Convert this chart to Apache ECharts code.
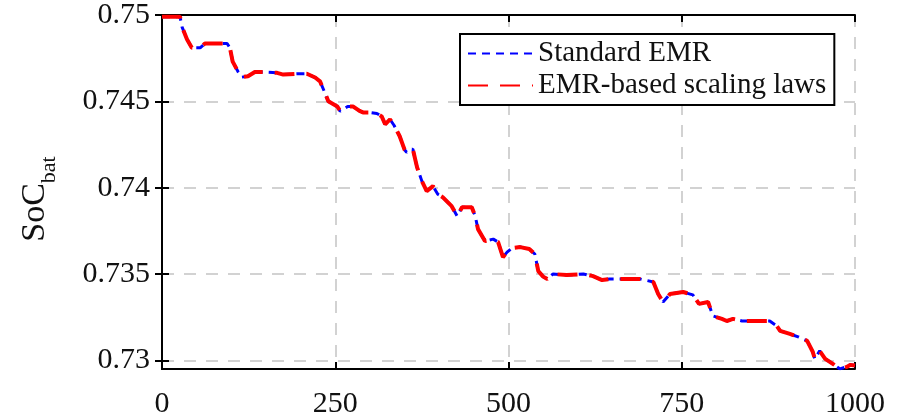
<!DOCTYPE html>
<html>
<head>
<meta charset="utf-8">
<script src="https://cdn.jsdelivr.net/npm/echarts@6/dist/echarts.min.js"></script>
<style>
  html, body { margin: 0; padding: 0; background: #fff; }
  #chart { width: 905px; height: 419px; }
</style>
</head>
<body>
<div id="chart"></div>
<script>
var myChart = echarts.init(document.getElementById('chart'));

// time axis samples
var timeSteps = [0, 26, 29, 36, 43, 55, 62, 74, 94, 98, 102, 110, 115, 124, 134, 146, 166, 175, 195, 209, 221, 228, 235, 240, 253,
	257, 268, 276, 285, 290, 300, 310, 317, 322, 329, 335, 343, 350, 353, 358, 362, 368, 375, 382, 391, 398, 405, 418, 426, 433,
	447, 452, 456, 466, 478, 485, 492, 498, 505, 517, 530, 538, 543, 550, 556, 564, 584, 608, 622, 635, 646, 661, 690, 709, 716,
	723, 733, 752, 766, 775, 788, 795, 808, 815, 824, 837, 859, 877, 887, 892, 906, 918, 931, 939, 942, 949, 957, 968, 978, 988,
	993, 1000];

// Standard EMR
var socStandard = [0.7499, 0.7499, 0.7493, 0.7486, 0.7481, 0.7481, 0.74835, 0.74835, 0.74835, 0.7481, 0.7473, 0.7467, 0.7464, 0.74645, 0.7467, 0.7467, 0.74665, 0.74655, 0.7466, 0.7466, 0.74638, 0.74616, 0.7455, 0.7450, 0.7447,
	0.74442, 0.7447, 0.7447, 0.74445, 0.74436, 0.74436, 0.7443, 0.74413, 0.74367, 0.74396, 0.7436, 0.74298, 0.7422, 0.74205, 0.7422, 0.74223, 0.74119, 0.74038, 0.7398, 0.74009, 0.73962, 0.73945, 0.73893, 0.73835, 0.73887,
	0.73887, 0.73835, 0.7376, 0.73691, 0.73702, 0.73685, 0.73598, 0.73627, 0.7365, 0.73656, 0.73645, 0.73616, 0.73517, 0.73485, 0.73471, 0.735, 0.73494, 0.735, 0.73488, 0.73465, 0.73471, 0.73471, 0.73471, 0.73454, 0.73384,
	0.73338, 0.73384, 0.73396, 0.73379, 0.73327, 0.73338, 0.73257, 0.7324, 0.73228, 0.7324, 0.73228, 0.73228, 0.73228, 0.732, 0.73171, 0.73153, 0.73136, 0.73113, 0.7305, 0.73009, 0.73055, 0.73009, 0.7298, 0.72951, 0.72962,
	0.72974, 0.7297];

// EMR-based scaling laws
var socScaling = [0.7499, 0.7499, 0.7493, 0.7486, 0.7481, 0.7481, 0.74835, 0.74835, 0.74835, 0.7481, 0.7473, 0.7467, 0.7464, 0.74645, 0.7467, 0.7467, 0.74665, 0.74655, 0.7466, 0.7466, 0.74638, 0.74616, 0.7455, 0.7450, 0.7447,
	0.74445, 0.7447, 0.7447, 0.74445, 0.74436, 0.74436, 0.7443, 0.74413, 0.74367, 0.74396, 0.7436, 0.74298, 0.7422, 0.74205, 0.7422, 0.74223, 0.74119, 0.74038, 0.7398, 0.74009, 0.73962, 0.73945, 0.73893, 0.73835, 0.73887,
	0.73887, 0.73835, 0.7376, 0.73691, 0.73702, 0.73685, 0.73598, 0.73627, 0.7365, 0.73656, 0.73645, 0.73616, 0.73517, 0.73485, 0.73471, 0.735, 0.73494, 0.735, 0.73488, 0.73465, 0.73471, 0.73471, 0.73471, 0.73454, 0.73384,
	0.73338, 0.73384, 0.73396, 0.73379, 0.73327, 0.73338, 0.73257, 0.7324, 0.73228, 0.7324, 0.73228, 0.73228, 0.73228, 0.732, 0.73171, 0.73153, 0.73136, 0.73113, 0.7305, 0.73009, 0.73055, 0.73009, 0.7298, 0.72951, 0.72962,
	0.72974, 0.7297];

var yTicks = [0.73, 0.735, 0.74, 0.745, 0.75];
var seriesNames = ['Standard EMR', 'EMR-based scaling laws'];

var font = 'Liberation Serif';

function pairs(xs, ys) {
	var out = [];
	for (var i = 0; i < xs.length; i++) {
		out.push([xs[i], ys[i]]);
	}
	return out;
}

var option = {
	animation: false,
	backgroundColor: '#fff',
	grid: {
		left: 162,
		right: 50,
		top: 15,
		bottom: 50
	},
	legend: {
		data: seriesNames,
		orient: 'vertical',
		left: 460,
		top: 34,
		selectedMode: false,
		backgroundColor: '#fff',
		borderColor: '#000',
		borderWidth: 2,
		padding: [5, 8, 5, 7],
		itemGap: 3,
		itemWidth: 65,
		itemHeight: 12,
		itemStyle: { opacity: 0 },
		textStyle: {
			fontFamily: font,
			fontSize: 29,
			color: '#111'
		}
	},
	xAxis: [{
		type: 'value',
		min: 0,
		max: 1000,
		interval: 250,
		axisLine: { show: true, lineStyle: { color: '#000', width: 2 } },
		axisTick: { show: true, inside: true, length: 7, lineStyle: { color: '#000', width: 2 } },
		axisLabel: {
			fontFamily: font, fontSize: 30, color: '#111', margin: 20,
			formatter: function (v) { return String(v); }
		},
		splitLine: { show: true, lineStyle: { color: '#d2d2d2', width: 2, type: [12, 10] } }
	}, {
		type: 'value',
		position: 'top',
		min: 0,
		max: 1000,
		interval: 250,
		axisLine: { show: true, lineStyle: { color: '#000', width: 2 } },
		axisTick: { show: true, inside: true, length: 7, lineStyle: { color: '#000', width: 2 } },
		axisLabel: { show: false },
		splitLine: { show: false }
	}],
	yAxis: [{
		type: 'value',
		min: 0.7295,
		max: 0.75,
		name: '{a|SoC}{b|bat}',
		nameLocation: 'middle',
		nameGap: 110,
		nameTextStyle: {
			fontFamily: font,
			color: '#111',
			padding: [0, 14, 0, 0],
			rich: {
				a: { fontFamily: font, fontSize: 34, color: '#111', verticalAlign: 'bottom' },
				b: { fontFamily: font, fontSize: 22, color: '#111', verticalAlign: 'bottom', padding: [0, 0, -8, 0] }
			}
		},
		axisLine: { show: true, lineStyle: { color: '#000', width: 2 } },
		axisTick: { show: true, inside: true, length: 7, customValues: yTicks, lineStyle: { color: '#000', width: 2 } },
		axisLabel: {
			fontFamily: font, fontSize: 30, color: '#111', margin: 12, customValues: yTicks,
			formatter: function (v) { return String(+v.toFixed(3)); }
		},
		splitLine: { show: true, lineStyle: { color: '#d2d2d2', width: 2, type: [12, 10] } }
	}, {
		type: 'value',
		position: 'right',
		min: 0.7295,
		max: 0.75,
		axisLine: { show: true, lineStyle: { color: '#000', width: 2 } },
		axisTick: { show: true, inside: true, length: 7, customValues: yTicks, lineStyle: { color: '#000', width: 2 } },
		axisLabel: { show: false },
		splitLine: { show: false }
	}],
	series: [
		{
			name: seriesNames[0],
			type: 'line',
			symbol: 'none',
			xAxisIndex: 0,
			yAxisIndex: 0,
			data: pairs(timeSteps, socStandard),
			lineStyle: { color: '#0000ff', width: 3, type: [8, 6] },
			itemStyle: { color: '#0000ff' },
			z: 3
		}, {
			name: seriesNames[1],
			type: 'line',
			symbol: 'none',
			xAxisIndex: 0,
			yAxisIndex: 0,
			data: pairs(timeSteps, socScaling),
			lineStyle: { color: '#ff0000', width: 4, type: [20, 12] },
			itemStyle: { color: '#ff0000' },
			z: 4
		}
	]
};

myChart.setOption(option);
</script>
</body>
</html>
